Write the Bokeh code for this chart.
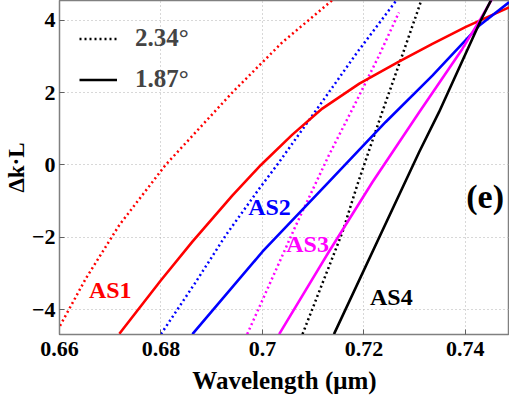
from bokeh.plotting import figure
from bokeh.models import Range1d, FixedTicker, Legend, LegendItem, Label
from bokeh.embed import file_html
from bokeh.resources import INLINE

# ---- data ----
# AS1, red
as1_187_wl = [0.6718, 0.6800, 0.6862, 0.6941, 0.6997, 0.7059, 0.7118, 0.7191, 0.7269, 0.7335, 0.7401, 0.7486]
as1_187_dk = [-4.67, -3.19, -2.12, -0.84, 0.0, 0.84, 1.56, 2.25, 2.86, 3.35, 3.82, 4.36]
as1_234_wl = [0.6601, 0.6652, 0.6718, 0.6809, 0.6941, 0.7039, 0.7148]
as1_234_dk = [-4.45, -3.14, -1.66, 0.0, 2.01, 3.39, 4.68]
# AS2, blue
as2_187_wl = [0.6862, 0.7000, 0.7131, 0.7243, 0.7335, 0.7427, 0.7486]
as2_187_dk = [-4.68, -2.4, -0.47, 1.19, 2.47, 3.85, 4.5]
as2_234_wl = [0.6800, 0.6869, 0.6928, 0.6994, 0.7033, 0.7131, 0.7187, 0.7266]
as2_234_dk = [-4.68, -3.23, -1.94, -0.65, 0.08, 2.01, 3.12, 4.59]
# AS3, magenta
as3_187_wl = [0.7033, 0.7131, 0.7217, 0.7309, 0.7394, 0.7430, 0.7453]
as3_187_dk = [-4.68, -2.4, -0.47, 1.46, 3.21, 4.04, 4.6]
as3_234_wl = [0.6970, 0.7065, 0.7131, 0.7184, 0.7230, 0.7269]
as3_234_dk = [-4.68, -1.70, 0.27, 1.73, 3.03, 4.22]
# AS4, black
as4_187_wl = [0.7141, 0.7309, 0.7348, 0.7430, 0.7455]
as4_187_dk = [-4.68, 0.36, 1.46, 3.99, 4.68]
as4_234_wl = [0.7079, 0.7158, 0.7187, 0.7236, 0.7273, 0.7305, 0.7316]
as4_234_dk = [-4.68, -1.85, -0.55, 1.46, 2.93, 4.22, 4.68]

x_ticks = [0.66, 0.68, 0.70, 0.72, 0.74]
x_tick_labels = ["0.66", "0.68", "0.7", "0.72", "0.74"]
y_ticks = [-4, -2, 0, 2, 4]
y_tick_labels = ["\u22124", "\u22122", "0", "2", "4"]

series_names = ["AS1", "AS2", "AS3", "AS4"]
series_colors = ["#ff0000", "#0000ff", "#ff00ff", "#000000"]
label_x = [0.6700, 0.7014, 0.7089, 0.7254]
label_y = [-3.45, -1.16, -2.18, -3.64]
legend_labels = ["2.34\u00b0", "1.87\u00b0"]
panel_tag = "(e)"
panel_tag_x = 0.7439
panel_tag_y = -0.88

FONT = "Liberation Serif"

p = figure(width=509, height=396, output_backend="svg", toolbar_location=None,
           x_range=Range1d(0.66, 0.7487), y_range=Range1d(-4.69, 4.55),
           min_border_left=59, min_border_right=0, min_border_top=0,
           min_border_bottom=61)
p.background_fill_color = "white"
p.border_fill_color = "white"
p.outline_line_color = "#808080"
p.outline_line_width = 1.5

solid_sets = [(as1_187_wl, as1_187_dk), (as2_187_wl, as2_187_dk),
              (as3_187_wl, as3_187_dk), (as4_187_wl, as4_187_dk)]
dotted_sets = [(as1_234_wl, as1_234_dk), (as2_234_wl, as2_234_dk),
               (as3_234_wl, as3_234_dk), (as4_234_wl, as4_234_dk)]

dotted_r = []
solid_r = []
for (wl, dk), col in zip(dotted_sets, series_colors):
    dotted_r.append(p.line(wl, dk, line_color=col, line_width=2.5, line_dash="2 3"))
for (wl, dk), col in zip(solid_sets, series_colors):
    solid_r.append(p.line(wl, dk, line_color=col, line_width=2.6))

for name, col, lx, ly in zip(series_names, series_colors, label_x, label_y):
    p.add_layout(Label(x=lx, y=ly, text=name, text_color=col, text_font=FONT,
                       text_font_style="bold", text_font_size="24px",
                       text_align="center", text_baseline="middle"))
p.add_layout(Label(x=panel_tag_x, y=panel_tag_y, text=panel_tag, text_color="black",
                   text_font=FONT, text_font_style="bold", text_font_size="34px",
                   text_align="center", text_baseline="middle"))

legend = Legend(items=[LegendItem(label=legend_labels[0], renderers=[dotted_r[3]]),
                       LegendItem(label=legend_labels[1], renderers=[solid_r[3]])],
                location=(20, 241), padding=0, margin=0, spacing=13,
                glyph_width=38, glyph_height=27, label_height=27,
                label_standoff=18, label_text_font=FONT,
                label_text_font_style="bold", label_text_font_size="25px",
                border_line_color=None, background_fill_alpha=0)
p.add_layout(legend)

for ax in [p.xaxis[0], p.yaxis[0]]:
    ax.major_label_text_font = FONT
    ax.major_label_text_font_style = "bold"
    ax.major_label_text_font_size = "22px"
    ax.major_label_text_color = "black"
    ax.axis_label_text_font = FONT
    ax.axis_label_text_font_style = "bold"
    ax.axis_label_text_font_size = "25px"
    ax.axis_label_text_color = "black"
    ax.axis_line_color = "#808080"
    ax.major_tick_in = 5
    ax.major_tick_out = 0
    ax.major_tick_line_color = "#606060"
    ax.minor_tick_line_color = None

p.xaxis.ticker = FixedTicker(ticks=x_ticks)
p.xaxis.major_label_overrides = {t: l for t, l in zip(x_ticks, x_tick_labels)}
p.xaxis.major_label_standoff = 7
p.xaxis.axis_label = "Wavelength (\u03bcm)"
p.xaxis.axis_label_standoff = 8

p.yaxis.ticker = FixedTicker(ticks=y_ticks)
p.yaxis.major_label_overrides = {t: l for t, l in zip(y_ticks, y_tick_labels)}
p.yaxis.major_label_standoff = 4
p.yaxis.axis_label = "\u0394k\u00b7L"
p.yaxis.axis_label_text_font_size = "23px"
p.yaxis.axis_label_standoff = 0

p.xgrid.ticker = FixedTicker(ticks=x_ticks)
p.ygrid.ticker = FixedTicker(ticks=y_ticks)
p.grid.grid_line_color = "#b0b0b0"
p.grid.grid_line_dash = "1 3"
p.grid.grid_line_width = 1

open("out.html", "w").write(file_html(p, INLINE))
